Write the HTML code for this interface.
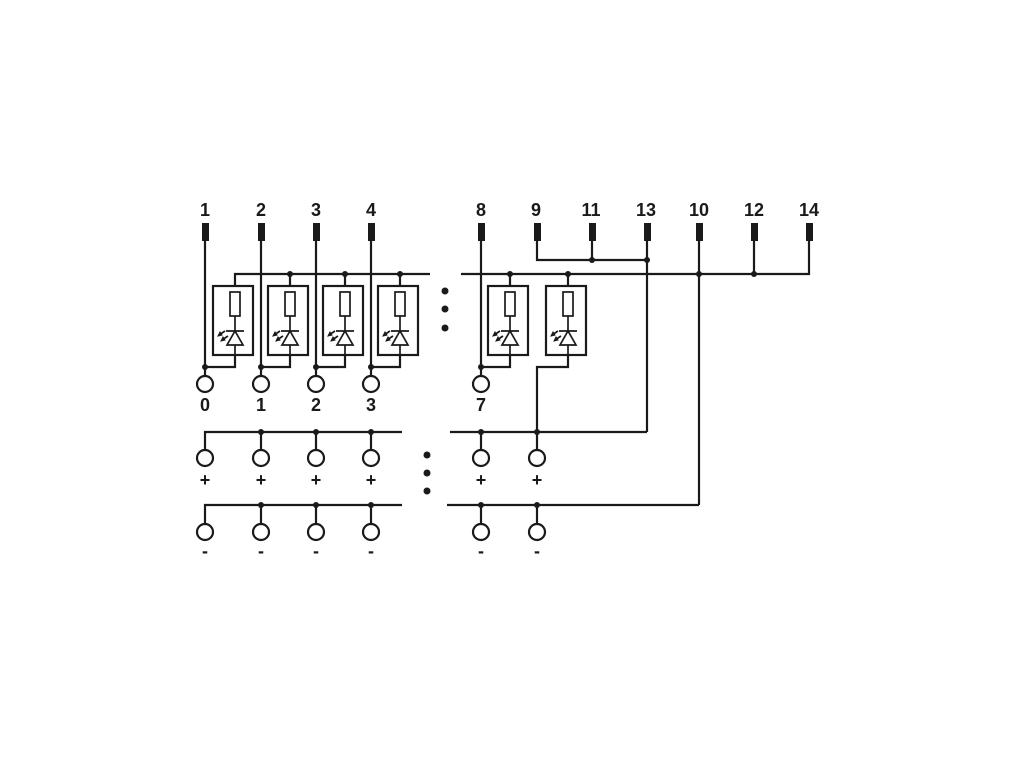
<!DOCTYPE html>
<html><head><style>html,body{margin:0;padding:0;background:#fff}svg{display:block}</style></head>
<body>
<svg width="1020" height="765" viewBox="0 0 1020 765" xmlns="http://www.w3.org/2000/svg" font-family="Liberation Sans, sans-serif" font-weight="bold" font-size="18" fill="#1a1a1a">
<g stroke="#1a1a1a" stroke-width="2.2" fill="none">
<path d="M235 286 V274 H430 M461 274 H809 V241"/>
<path d="M537 241 V260 H647 M592 241 V260"/>
<path d="M647 241 V432 M699 241 V505 M754 241 V274"/>
<path d="M205 241 V376 M261 241 V376 M316 241 V376 M371 241 V376 M481 241 V376"/>
<rect x="213" y="286" width="40" height="69"/>
<rect x="268" y="286" width="40" height="69"/>
<rect x="323" y="286" width="40" height="69"/>
<rect x="378" y="286" width="40" height="69"/>
<rect x="488" y="286" width="40" height="69"/>
<rect x="546" y="286" width="40" height="69"/>
<path d="M290 274 V286 M345 274 V286 M400 274 V286 M510 274 V286 M568 274 V286"/>
<path d="M235 355 V367 H205 M290 355 V367 H261 M345 355 V367 H316 M400 355 V367 H371 M510 355 V367 H481 M568 355 V367 H537 V432"/>
<path d="M205 450 V432 H402 M450 432 H647 M261 432 V450 M316 432 V450 M371 432 V450 M481 432 V450 M537 432 V450"/>
<path d="M205 524 V505 H402 M447 505 H699 M261 505 V524 M316 505 V524 M371 505 V524 M481 505 V524 M537 505 V524"/>
<g>
<circle cx="205" cy="384" r="8"/><circle cx="261" cy="384" r="8"/><circle cx="316" cy="384" r="8"/><circle cx="371" cy="384" r="8"/><circle cx="481" cy="384" r="8"/>
<circle cx="205" cy="458" r="8"/><circle cx="261" cy="458" r="8"/><circle cx="316" cy="458" r="8"/><circle cx="371" cy="458" r="8"/><circle cx="481" cy="458" r="8"/><circle cx="537" cy="458" r="8"/>
<circle cx="205" cy="532" r="8"/><circle cx="261" cy="532" r="8"/><circle cx="316" cy="532" r="8"/><circle cx="371" cy="532" r="8"/><circle cx="481" cy="532" r="8"/><circle cx="537" cy="532" r="8"/>
</g>
</g>
<defs>
<g id="cmp" stroke="#1a1a1a" stroke-width="1.7" fill="none">
<path d="M0 -12 V-6 M0 18 V45 M0 59 V69"/>
<rect x="-5" y="6" width="10" height="24" fill="#fff"/>
<path d="M-9 45 H9 M-8 59 H8 L0 45 Z"/>
<path d="M-10 45 L-16 49 M-7 50 L-13 54"/>
<path d="M-17 50 L-15 46 L-13 49 Z M-14 55 L-12 51 L-10 54 Z" fill="#1a1a1a" stroke-width="1"/>
</g>
</defs>
<use href="#cmp" transform="translate(235,286)"/>
<use href="#cmp" transform="translate(290,286)"/>
<use href="#cmp" transform="translate(345,286)"/>
<use href="#cmp" transform="translate(400,286)"/>
<use href="#cmp" transform="translate(510,286)"/>
<use href="#cmp" transform="translate(568,286)"/>
<g fill="#1a1a1a">
<rect x="202" y="223" width="7" height="18"/><rect x="258" y="223" width="7" height="18"/><rect x="313" y="223" width="7" height="18"/><rect x="368" y="223" width="7" height="18"/>
<rect x="478" y="223" width="7" height="18"/><rect x="534" y="223" width="7" height="18"/><rect x="589" y="223" width="7" height="18"/><rect x="644" y="223" width="7" height="18"/>
<rect x="696" y="223" width="7" height="18"/><rect x="751" y="223" width="7" height="18"/><rect x="806" y="223" width="7" height="18"/>
<circle cx="290" cy="274" r="3"/><circle cx="345" cy="274" r="3"/><circle cx="400" cy="274" r="3"/><circle cx="510" cy="274" r="3"/><circle cx="568" cy="274" r="3"/>
<circle cx="699" cy="274" r="3"/><circle cx="754" cy="274" r="3"/><circle cx="592" cy="260" r="3"/><circle cx="647" cy="260" r="3"/>
<circle cx="205" cy="367" r="3"/><circle cx="261" cy="367" r="3"/><circle cx="316" cy="367" r="3"/><circle cx="371" cy="367" r="3"/><circle cx="481" cy="367" r="3"/>
<circle cx="261" cy="432" r="3"/><circle cx="316" cy="432" r="3"/><circle cx="371" cy="432" r="3"/><circle cx="481" cy="432" r="3"/><circle cx="537" cy="432" r="3"/>
<circle cx="261" cy="505" r="3"/><circle cx="316" cy="505" r="3"/><circle cx="371" cy="505" r="3"/><circle cx="481" cy="505" r="3"/><circle cx="537" cy="505" r="3"/>
<circle cx="445" cy="291" r="3.5"/><circle cx="445" cy="309" r="3.5"/><circle cx="445" cy="328" r="3.5"/>
<circle cx="427" cy="455" r="3.5"/><circle cx="427" cy="473" r="3.5"/><circle cx="427" cy="491" r="3.5"/>
</g>
<g text-anchor="middle">
<text x="205" y="216">1</text><text x="261" y="216">2</text><text x="316" y="216">3</text><text x="371" y="216">4</text>
<text x="481" y="216">8</text><text x="536" y="216">9</text><text x="591" y="216">11</text><text x="646" y="216">13</text>
<text x="699" y="216">10</text><text x="754" y="216">12</text><text x="809" y="216">14</text>
<text x="205" y="411">0</text><text x="261" y="411">1</text><text x="316" y="411">2</text><text x="371" y="411">3</text><text x="481" y="411">7</text>
<text x="205" y="486">+</text><text x="261" y="486">+</text><text x="316" y="486">+</text><text x="371" y="486">+</text><text x="481" y="486">+</text><text x="537" y="486">+</text>
<text x="205" y="557">-</text><text x="261" y="557">-</text><text x="316" y="557">-</text><text x="371" y="557">-</text><text x="481" y="557">-</text><text x="537" y="557">-</text>
</g>
</svg>
</body></html>
